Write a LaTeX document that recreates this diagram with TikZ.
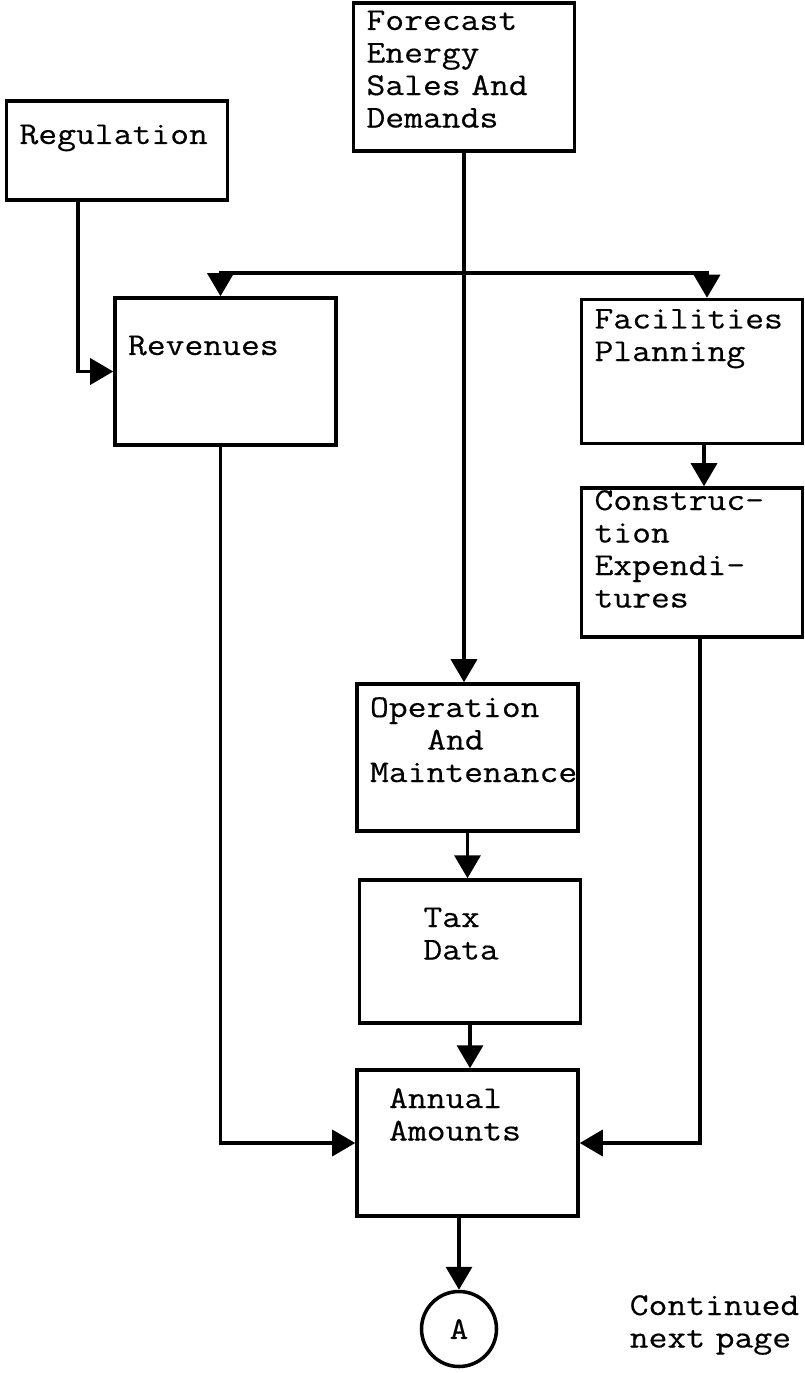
\documentclass[tikz,border=0pt]{standalone}
\usepackage{fontspec}
\newfontfamily\typefont[FakeStretch=1.15,FakeBold=0.4]{Latin Modern Mono}
\usetikzlibrary{arrows.meta}

\begin{document}
\begin{tikzpicture}[
		block/.style={rectangle,draw,line width=2pt,align=left,text width=3.9cm,
		inner xsep=0.26cm,inner ysep=0pt,font=\typefont\fontsize{18.1}{18.5}\selectfont},
		plain/.style={align=left,inner sep=0pt,font=\typefont\fontsize{18.1}{18.5}\selectfont},
		>={Triangle[length=0.46cm,width=0.52cm]},
		line width=2pt
		]
		\useasboundingbox (0,0) rectangle (16.08,-27.46);

		\node[block, text height=0.54cm, text depth=2.42cm](S0) at (9.28,-1.54){Forecast\\Energy\\Sales And\\Demands};
		\node[block, left of = S0, xshift = -5.94cm, yshift = -1.47cm,
		text height=0.86cm, text depth=1.12cm](S1){Regulation};
		\node[block, below of = S1, xshift = 2.17cm, yshift = -3.42cm,
		text height=1.14cm, text depth=1.80cm](S2){Revenues};
		\node[block, right of = S2, xshift = 8.33cm,
		text height=0.58cm, text depth=2.30cm](S3){Facilities\\Planning};
		\node[block, below of = S3, yshift = -2.82cm,
		text height=0.44cm, text depth=2.54cm](S4){Construc-\\tion\\Expendi-\\tures};
		\node[block, below of = S0, xshift = 0.07cm, yshift = -12.61cm,
		text height=0.66cm, text depth=2.28cm](S5){Operation\\\hspace*{1.8em}And\\Maintenance};
		\node[block, below of = S5, xshift = 0.05cm, yshift = -2.88cm,
		text height=0.94cm, text depth=1.92cm](S6){\hspace*{1.6em}Tax\\\hspace*{1.6em}Data};
		\node[block, below of = S6, xshift = -0.05cm, yshift = -2.83cm,
		text height=0.76cm, text depth=2.16cm](S7){\hspace*{0.6em}Annual\\\hspace*{0.6em}Amounts};
		\node[circle, draw, line width=2pt, minimum size=1.5cm, inner sep=0pt,
		font=\typefont\fontsize{18.1}{18.5}\selectfont,
		below of = S7, xshift = -0.17cm, yshift = -2.72cm](S8){A};
		\node[plain, text width=3.6cm, right of = S8, anchor=base west,
		xshift = 2.38cm, yshift = 0.28cm](S9){Continued\\next page};

		% forecast feeds everything below it
		\draw[->] (S0.south) -- (S0.south |- S5.north);
		\node[coordinate, below of = S0, yshift = -2.92cm](J){};
		\draw[->] (J) -| ([xshift=-0.1cm]S2.north);
		\draw[->] (J) -| ([xshift=0.3cm]S3.north);
		\draw[->] ([xshift=-0.78cm]S1.south) |- (S2);
		\draw[->] ([xshift=0.24cm]S3.south) -- ([xshift=0.24cm]S3.south |- S4.north);
		\draw[->] (S5.south) -- (S5.south |- S6.north);
		\draw[->] (S6.south) -- (S6.south |- S7.north);
		% side inputs to the annual amounts
		\draw[->] ([xshift=-0.1cm]S2.south) |- (S7);
		\draw[->] ([xshift=0.16cm]S4.south) |- (S7);
		\draw[->] (S7.south -| S8) -- (S8);
	\end{tikzpicture}
\end{document}
